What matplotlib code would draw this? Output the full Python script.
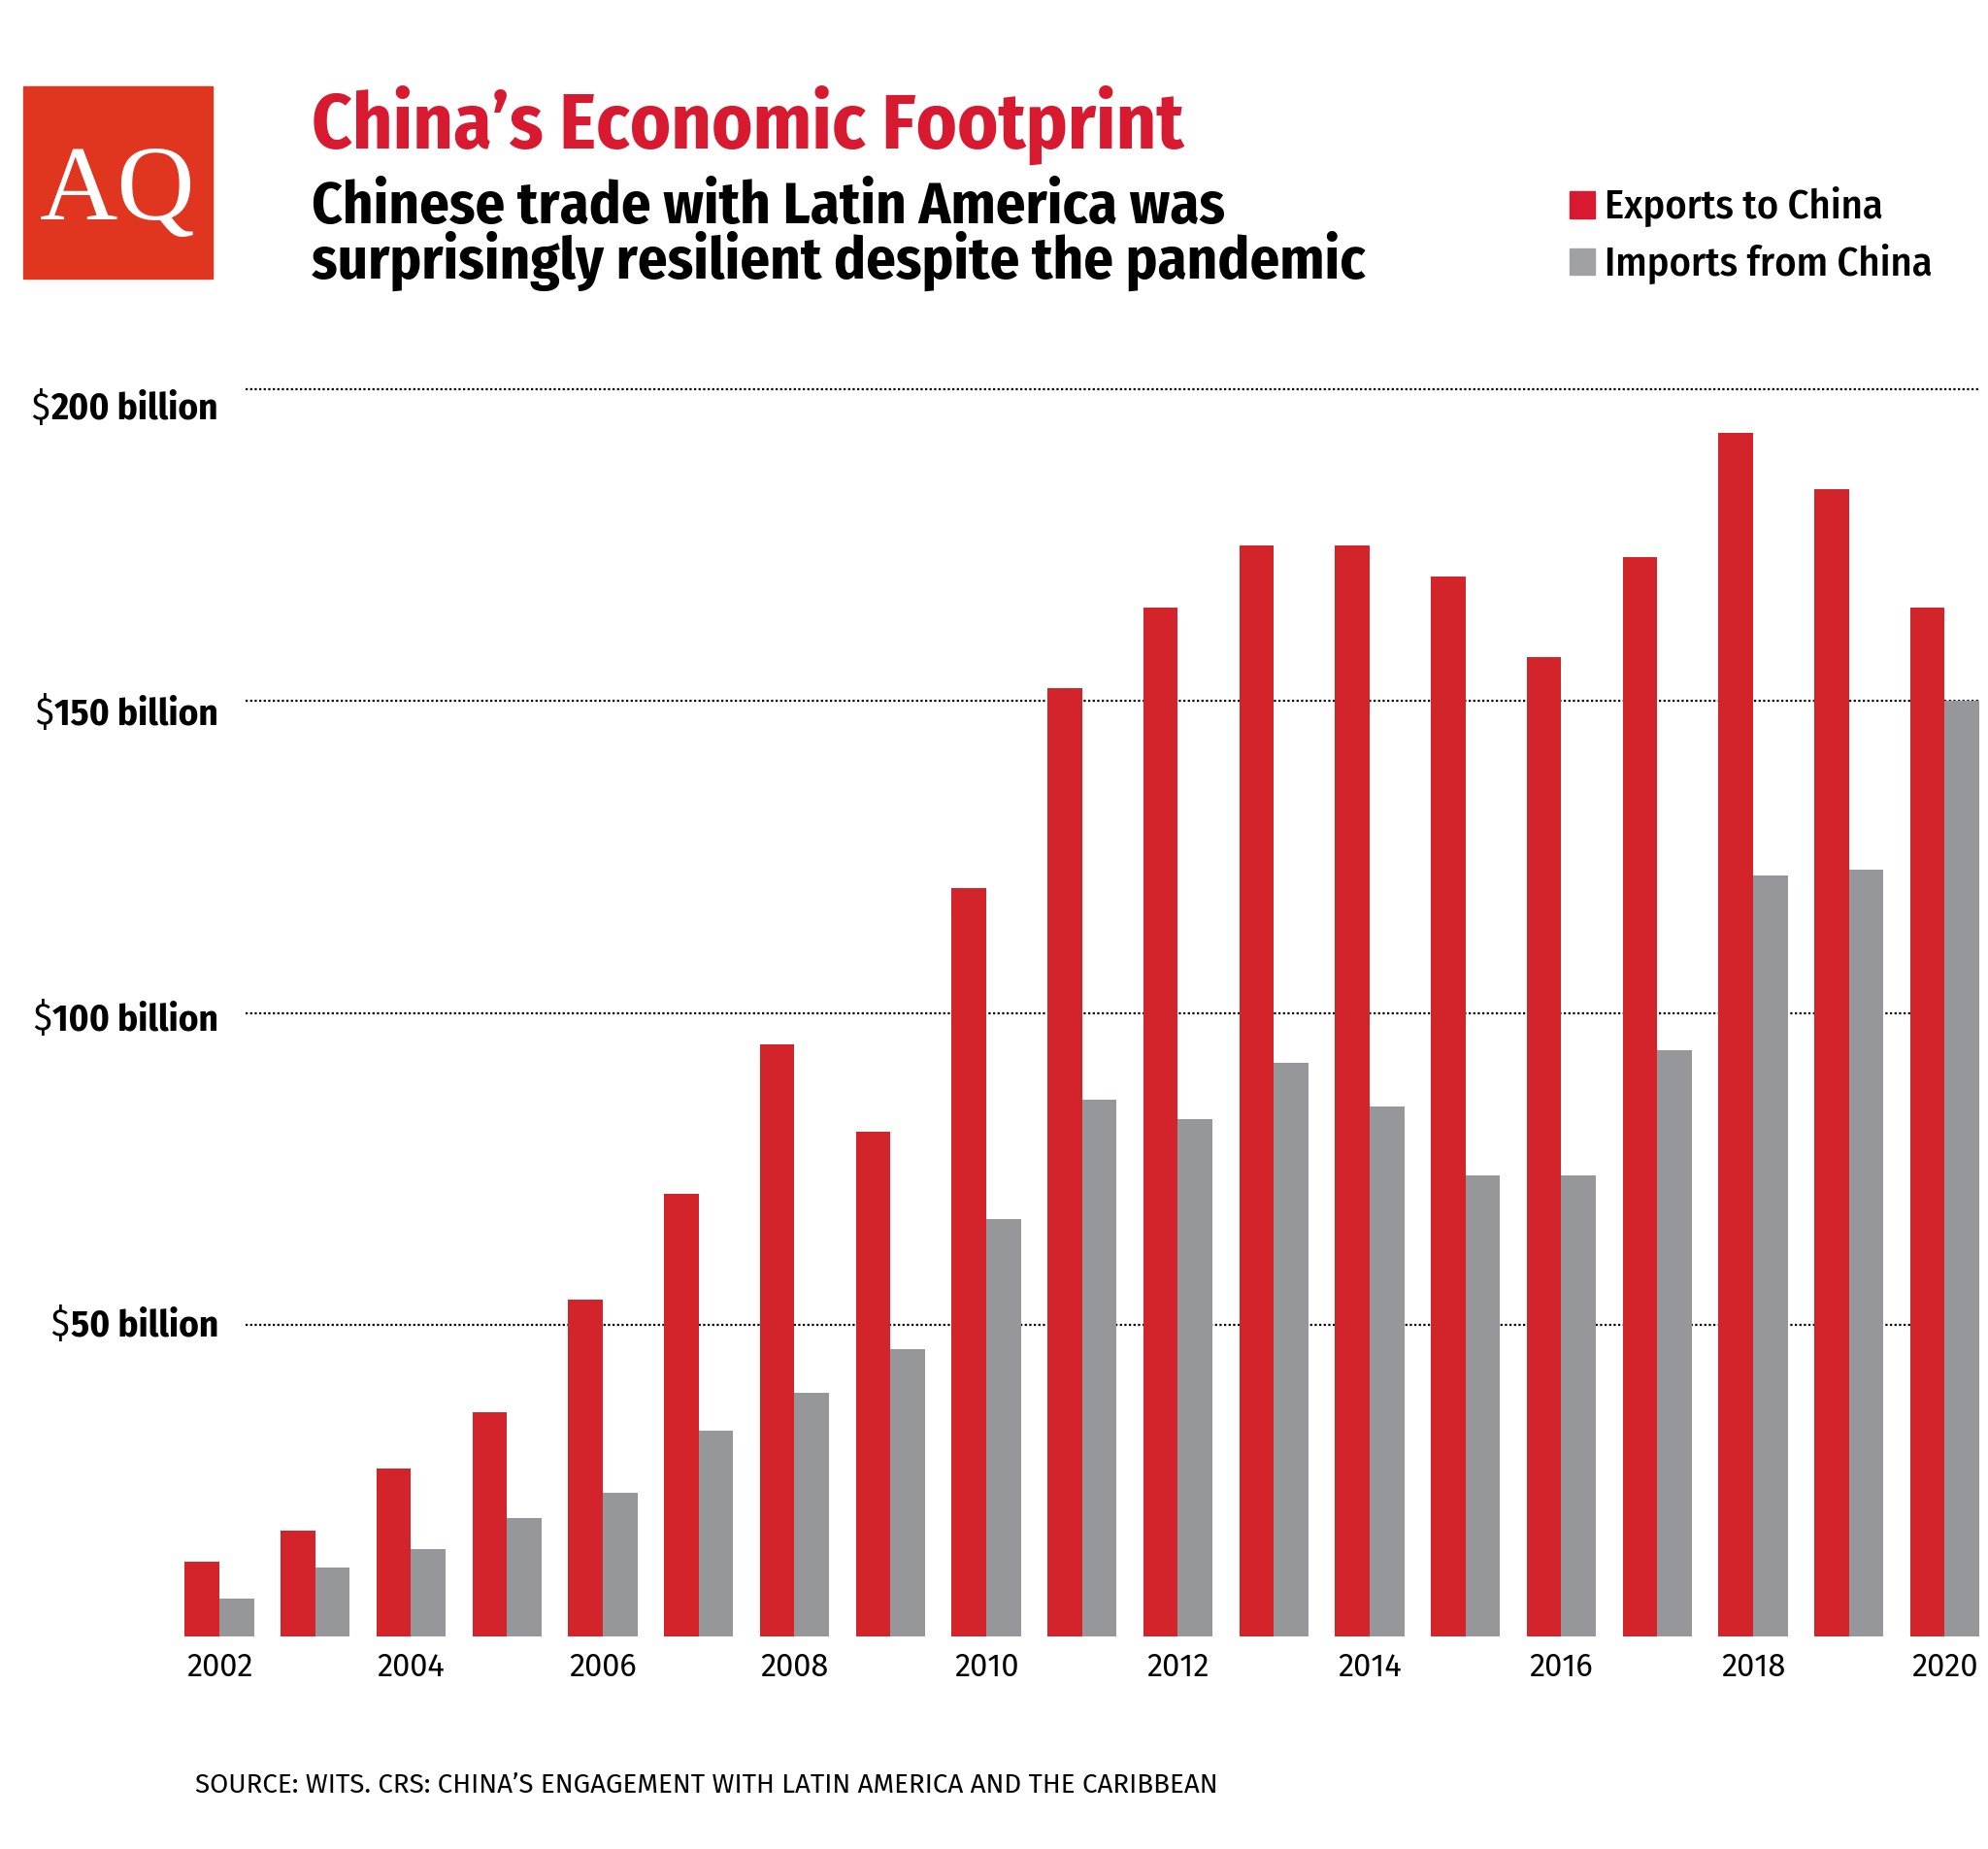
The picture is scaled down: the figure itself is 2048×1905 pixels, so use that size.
import matplotlib
matplotlib.use("Agg")
import matplotlib.pyplot as plt
from matplotlib.patches import Rectangle
from matplotlib.transforms import blended_transform_factory

# data (billions of US$)
years = list(range(2002, 2021))
exports_to_china = [12, 17, 27, 36, 54, 71, 95, 81, 120, 152, 165, 175, 175, 170, 157, 173, 193, 184, 165]
imports_from_china = [6, 11, 14, 19, 23, 33, 39, 46, 67, 86, 83, 92, 85, 74, 74, 94, 122, 123, 150]
y_ticks = [50, 100, 150, 200]
y_labels = ["$50 billion", "$100 billion", "$150 billion", "$200 billion"]
year_labels = [str(y) for y in years if y % 2 == 0]

RED = "#D3232B"
GREY = "#96979B"
TITLE_RED = "#D71A2F"
LOGO = "#E0351F"

plt.rcParams["font.family"] = ["Fira Sans Condensed", "Roboto Condensed", "DejaVu Sans"]

W, H = 2048, 1906
fig = plt.figure(figsize=(W / 100, H / 100), dpi=100)


def fx(px):
    return px / W


def fy(py):
    return 1 - py / H


# plot area: x from 160 to 2040 px, y from 402 (200) to 1687 (0)
ax = fig.add_axes([fx(160), fy(1687), fx(2040) - fx(160), (1687 - 402) / H])
x = list(range(len(years)))
bw = 0.36
ax.bar([i - bw / 2 for i in x], exports_to_china, width=bw, color=RED, zorder=2)
ax.bar([i + bw / 2 for i in x], imports_from_china, width=bw, color=GREY, zorder=2)
for v in y_ticks:
    ax.axhline(v, xmin=0.0495, xmax=1, color="black", lw=1.6, ls=(0, (1, 1.1)), zorder=1, clip_on=False)
ax.set_xlim(-0.668, 18.37)
ax.set_ylim(0, 200)
ax.axis("off")

# y labels: the dollar sign is set lighter than the figure
ty = blended_transform_factory(fig.transFigure, ax.transData)
for v, lab in zip(y_ticks, y_labels):
    t = ax.text(fx(225), v - 1.0 - (v - 100) * 0.02, lab[1:], transform=ty, ha="right", va="center",
                fontsize=28, fontweight="bold", color="black")
    ax.annotate(lab[0], xy=(0, 0), xycoords=t, xytext=(-1, 0), textcoords="offset points",
                ha="right", va="bottom", fontsize=28, fontweight="normal", color="black")

# year labels
tx = blended_transform_factory(ax.transData, fig.transFigure)
for i, y in enumerate(years):
    if str(y) in year_labels:
        ax.text(i, fy(1727), str(y), transform=tx, ha="center", va="baseline", fontsize=23.5,
                color="black", family=["Fira Sans", "DejaVu Sans"])

# logo
fig.patches.append(Rectangle((fx(24), fy(288)), fx(219) - fx(24), (288 - 90) / H,
                             transform=fig.transFigure, color=LOGO, zorder=0))
fig.text(fx(121), fy(226), "AQ", ha="center", va="baseline", fontsize=80, color="white",
         family=["Liberation Serif", "DejaVu Serif"])

# titles (the subtitle is anchored on the baseline of its last line)
fig.text(fx(321), fy(153), "China\u2019s Economic Footprint", fontsize=57.4, fontweight="bold",
         color=TITLE_RED, va="baseline")
fig.text(fx(321), fy(287), "Chinese trade with Latin America was\nsurprisingly resilient despite the pandemic",
         fontsize=43.7, fontweight="bold", color="black", va="baseline", linespacing=0.9)

# legend
for (top, bot), col, lab, base in [((198, 226), TITLE_RED, "Exports to China", 225),
                                    ((257, 284), "#A0A1A4", "Imports from China", 284)]:
    fig.patches.append(Rectangle((fx(1617), fy(bot)), fx(1643) - fx(1617), (bot - top) / H,
                                 transform=fig.transFigure, color=col))
    fig.text(fx(1653), fy(base), lab, fontsize=30.5, fontweight="medium", color="black", va="baseline")

# source
fig.text(fx(201), fy(1847), "SOURCE: WITS. CRS: CHINA\u2019S ENGAGEMENT WITH LATIN AMERICA AND THE CARIBBEAN",
         fontsize=20, color="black", va="baseline", family=["Fira Sans", "DejaVu Sans"])

fig.savefig("out.png", dpi=100, facecolor="white")
